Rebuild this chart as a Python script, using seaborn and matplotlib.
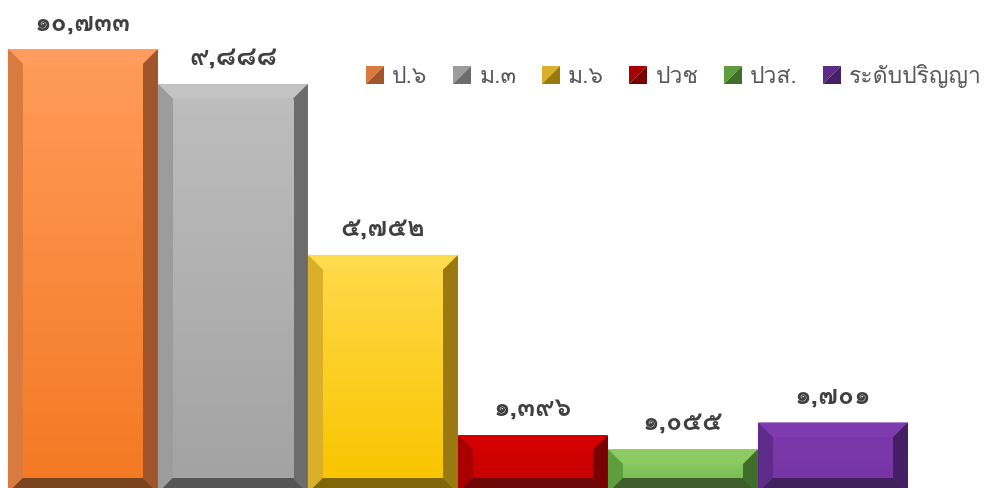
import numpy as np
import pandas as pd
import matplotlib
matplotlib.use('Agg')
import matplotlib.pyplot as plt
import seaborn as sns
from matplotlib import font_manager
from matplotlib.ft2font import FT2Font
from matplotlib.patches import Polygon, Patch
from matplotlib.legend_handler import HandlerBase

# Data
levels = ['ป.๖', 'ม.๓', 'ม.๖', 'ปวช', 'ปวส.', 'ระดับปริญญา']
counts = [10733, 9888, 5752, 1396, 1055, 1701]

# Bevel colours per bar
face_top = ['#FF9A58', '#BDBDBD', '#FFD845', '#D00000', '#88C860', '#7B38AA']
face_bottom = ['#F47A24', '#A3A3A3', '#F9C500', '#C80000', '#7BBE55', '#7635A5']
top_bevel = ['#FF9C5E', '#C3C3C3', '#FFDB4E', '#D40000', '#8CCB62', '#7E3AAE']
left_bevel = ['#D97A40', '#9C9C9C', '#D9AF2C', '#A80000', '#5F9E3F', '#5F2B88']
right_bevel = ['#A0552C', '#6C6C6C', '#9A7A10', '#780000', '#406E28', '#451F63']
bottom_bevel = ['#7A4420', '#555555', '#806608', '#6E0808', '#3D5E2A', '#42205E']


def thai_family():
    # pick an installed family that has Thai glyphs
    for f in font_manager.fontManager.ttflist:
        try:
            if 0x0E1B in FT2Font(f.fname).get_charmap():
                return f.name
        except Exception:
            pass
    return 'DejaVu Sans'


sns.set_style('white')
plt.rcParams['font.family'] = [thai_family(), 'DejaVu Sans']

thai_digits = str.maketrans('0123456789', '๐๑๒๓๔๕๖๗๘๙')

df = pd.DataFrame({'level': levels, 'count': counts})

fig = plt.figure(figsize=(9.98, 4.88), dpi=100)
ax = fig.add_axes([0, 0, 1, 1])
sns.barplot(data=df, x='level', y='count', hue='level', palette=face_bottom,
            width=1.0, saturation=1, legend=False, ax=ax)

ylo, yhi = 114, 11918
xlo = -0.553
ax.set_xlim(xlo, xlo + 998 / 150)
ax.set_ylim(ylo, yhi)
ax.axis('off')

# bevel size: ~15 px each way
by = (yhi - ylo) * 15 / 488
for i, p in enumerate(ax.patches):
    x0, w, h = p.get_x(), p.get_width(), p.get_height()
    x1 = x0 + w
    bx = w * 0.1
    ax.add_patch(Polygon([(x0, h), (x1, h), (x1 - bx, h - by), (x0 + bx, h - by)],
                         color=top_bevel[i], lw=0))
    ax.add_patch(Polygon([(x0, 0), (x0, h), (x0 + bx, h - by), (x0 + bx, by)],
                         color=left_bevel[i], lw=0))
    ax.add_patch(Polygon([(x1, 0), (x1, h), (x1 - bx, h - by), (x1 - bx, by)],
                         color=right_bevel[i], lw=0))
    ax.add_patch(Polygon([(x0, 0), (x1, 0), (x1 - bx, by), (x0 + bx, by)],
                         color=bottom_bevel[i], lw=0))
    # vertical gradient on the front face
    cmap = matplotlib.colors.LinearSegmentedColormap.from_list(
        'f', [face_bottom[i], face_top[i]])
    grad = np.linspace(0, 1, 100).reshape(-1, 1)
    ax.imshow(grad, cmap=cmap, aspect='auto', origin='lower',
              extent=(x0 + bx, x1 - bx, by, h - by), zorder=2)
    label = f'{counts[i]:,}'.translate(thai_digits)
    ax.annotate(label, (x0 + w / 2, h), xytext=(0, 26), textcoords='offset pixels',
                ha='center', va='center', fontsize=19, fontweight='bold',
                color='#404040')

ax.set_xlim(xlo, xlo + 998 / 150)
ax.set_ylim(ylo, yhi)


class SplitSquare(HandlerBase):
    def create_artists(self, legend, orig, xd, yd, width, height, fontsize, trans):
        s = height
        x, y = -xd, -yd
        light = Polygon([(x, y), (x, y + s), (x + s, y + s)],
                        color=orig.get_facecolor(), lw=0, transform=trans)
        dark = Polygon([(x, y), (x + s, y), (x + s, y + s)],
                       color=orig.get_edgecolor(), lw=0, transform=trans)
        return [light, dark]


handles = [Patch(facecolor=left_bevel[i], edgecolor=right_bevel[i], label=levels[i])
           for i in range(len(levels))]
fig.legend(handles=handles, loc='center left', bbox_to_anchor=(366 / 998, 1 - 76 / 488),
           ncol=6, frameon=False, fontsize=16.5, labelcolor='#595959',
           handler_map={Patch: SplitSquare()}, handlelength=0.85, handleheight=0.85,
           handletextpad=0.3, columnspacing=1.1, borderpad=0, borderaxespad=0)

fig.savefig('out.png', dpi=100)
